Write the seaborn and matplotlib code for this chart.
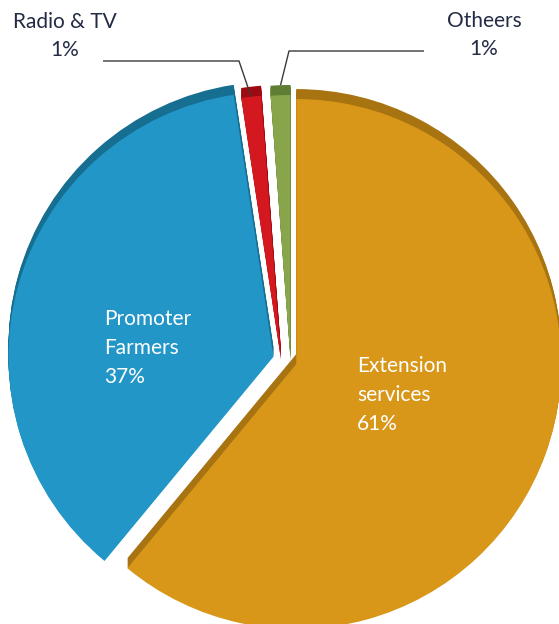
import matplotlib
matplotlib.use("Agg")
import numpy as np
import matplotlib.pyplot as plt
import seaborn as sns

# Sources of agricultural information (share of respondents, %)
categories = ["Extension services", "Promoter Farmers", "Radio & TV", "Otheers"]
shares = [61.0, 36.6, 1.2, 1.2]
label_lines = ["Extension\nservices", "Promoter\nFarmers", "Radio & TV", "Otheers"]

face_colors = ["#D9971A", "#2396C8", "#D3191F", "#89A54C"]
side_colors = ["#A87411", "#166F91", "#9E0A12", "#5F7D33"]

sns.set_theme(style="white")
plt.rcParams["font.family"] = ["Lato", "DejaVu Sans"]

W, H = 559, 624
fig = plt.figure(figsize=(W / 100, H / 100), dpi=100)
ax = fig.add_axes([0, 0, 1, 1])

CX, CY = 285, -360      # pie centre (1 unit = 1 px)
R = 265
DEPTH = 10              # extrusion depth of the 3-D look
explode = [12, 12, 0, 0]
nudge = [0, 0, -4, 5.5]  # sideways separation of the two thin slices


def draw_layer(dy, colors):
    wedges, _ = ax.pie(shares, radius=R, center=(CX, CY + dy), startangle=90,
                       counterclock=False, explode=explode, colors=colors,
                       wedgeprops=dict(linewidth=0), frame=True)
    for w, dx in zip(wedges, nudge):
        cx, cy = w.center
        w.set_center((cx + dx, cy))
    return wedges


# side walls first, then the front faces
for dy in range(DEPTH, 0, -1):
    draw_layer(dy, side_colors)
front = draw_layer(0, face_colors)

pct = [f"{round(s):.0f}%" for s in shares]
text_dark = "#232B45"
fs = 15

# labels inside the two large slices
ax.text(357, -395, f"{label_lines[0]}\n{pct[0]}", ha="left", va="center",
        color="white", fontsize=fs, linespacing=1.55)
ax.text(104, -348, f"{label_lines[1]}\n{pct[1]}", ha="left", va="center",
        color="white", fontsize=fs, linespacing=1.55)

# outside labels for the thin slices with leader lines
outside = [(2, (65, -36), (103, 239, -61), 0), (3, (484, -35), (424, 289, -51), DEPTH)]
for idx, (tx, ty), (x0, x1, yl), lift in outside:
    ax.text(tx, ty, f"{label_lines[idx]}\n{pct[idx]}", ha="center", va="center",
            color=text_dark, fontsize=fs, linespacing=1.52)
    w = front[idx]
    mid = np.deg2rad((w.theta1 + w.theta2) / 2)
    ex = w.center[0] + w.r * np.cos(mid)
    ey = w.center[1] + w.r * np.sin(mid) + lift
    ax.plot([x0, x1, ex], [yl, yl, ey], color="#3A3A3A", lw=1.0,
            solid_capstyle="butt", zorder=5)

ax.set_xlim(0, W)
ax.set_ylim(-H, 0)
ax.set_aspect("equal")
ax.axis("off")

fig.savefig("out.png", dpi=100, facecolor="white")
